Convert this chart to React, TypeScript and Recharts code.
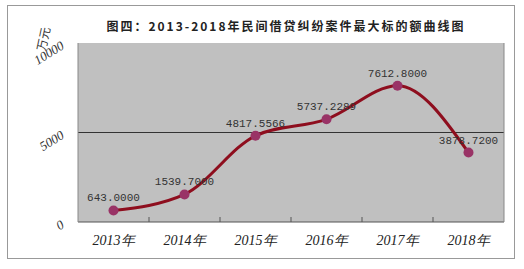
import { LineChart, Line, XAxis, YAxis, CartesianGrid, LabelList } from 'recharts';

const years = ['2013年', '2014年', '2015年', '2016年', '2017年', '2018年'];
const amounts = [643.0, 1539.7, 4817.5566, 5737.2289, 7612.8, 3878.72];
const yTicks = [0, 5000, 10000];

const data = years.map((year, i) => ({ year, amount: amounts[i] }));

const serif = '"Liberation Serif", "DejaVu Serif", serif';
const band = 426 / years.length;

const XTick = ({ x, y, payload, index }: any) => (
  <g>
    {index < years.length - 1 && (
      <line x1={x + band / 2} x2={x + band / 2} y1={y - 5} y2={y} stroke="#555" />
    )}
    <text x={x} y={y + 23} textAnchor="middle" fontFamily={serif} fontStyle="italic" fontSize={14} fill="#222">
      {payload.value}
    </text>
  </g>
);

const YTick = ({ x, y, payload }: any) => (
  <text
    x={x - 13}
    y={y + 5}
    textAnchor="end"
    fontFamily={serif}
    fontStyle="italic"
    fontSize={13}
    fill="#333"
    transform={`rotate(-32 ${x - 13} ${y + 5})`}
  >
    {payload.value}
  </text>
);

export default function App() {
  return (
    <div style={{ position: 'absolute', left: 0, top: 0, width: 524, height: 269, background: '#fff' }}>
      <div style={{ position: 'absolute', left: 7, top: 5, width: 506, height: 252, border: '1px solid #999' }} />
      <div
        style={{
          position: 'absolute', left: 0, width: 572, top: 17, textAlign: 'center',
          fontFamily: '"Noto Sans CJK SC", sans-serif', fontWeight: 'bold', fontSize: 12, letterSpacing: 2, color: '#222',
        }}
      >
        图四：2013-2018年民间借贷纠纷案件最大标的额曲线图
      </div>
      <div
        style={{
          position: 'absolute', left: 30, top: 31, width: 26, height: 14, lineHeight: '14px', whiteSpace: 'nowrap',
          fontFamily: '"Noto Sans CJK SC", serif', fontSize: 12, color: '#333',
          transform: 'rotate(-78deg)', transformOrigin: 'center',
        }}
      >
        万元
      </div>
      <LineChart width={524} height={269} data={data} margin={{ top: 43, right: 0, bottom: 0, left: 0 }}>
        <CartesianGrid xAxisId="bottom" yAxisId="left" vertical={false} horizontalValues={[5000]} fill="#C0C0C0" stroke="#333" />
        <XAxis
          xAxisId="bottom"
          dataKey="year"
          height={47}
          padding={{ left: band / 2, right: band / 2 }}
          tickLine={false}
          tickSize={0}
          tickMargin={0}
          axisLine={{ stroke: '#555' }}
          tick={<XTick />}
          interval={0}
        />
        <XAxis xAxisId="top" orientation="top" dataKey="year" height={0} tick={false} tickLine={false} axisLine={{ stroke: '#888' }} />
        <YAxis yAxisId="left" domain={[0, 10000]} ticks={yTicks} width={78} tickLine={false} tickSize={0} tickMargin={0} axisLine={{ stroke: '#888' }} tick={<YTick />} />
        <YAxis yAxisId="right" orientation="right" domain={[0, 10000]} width={20} tick={false} tickLine={false} axisLine={{ stroke: '#888' }} />
        <Line
          xAxisId="bottom"
          yAxisId="left"
          type="monotone"
          dataKey="amount"
          stroke="#8E0E1E"
          strokeWidth={3}
          dot={{ r: 5, fill: '#993366', stroke: 'none' }}
          activeDot={false}
          isAnimationActive={false}
        >
          <LabelList
            dataKey="amount"
            position="top"
            offset={9}
            formatter={(v: any) => Number(v).toFixed(4)}
            fontFamily='"Liberation Mono", monospace'
            fontSize={11}
            fill="#333"
          />
        </Line>
      </LineChart>
    </div>
  );
}
